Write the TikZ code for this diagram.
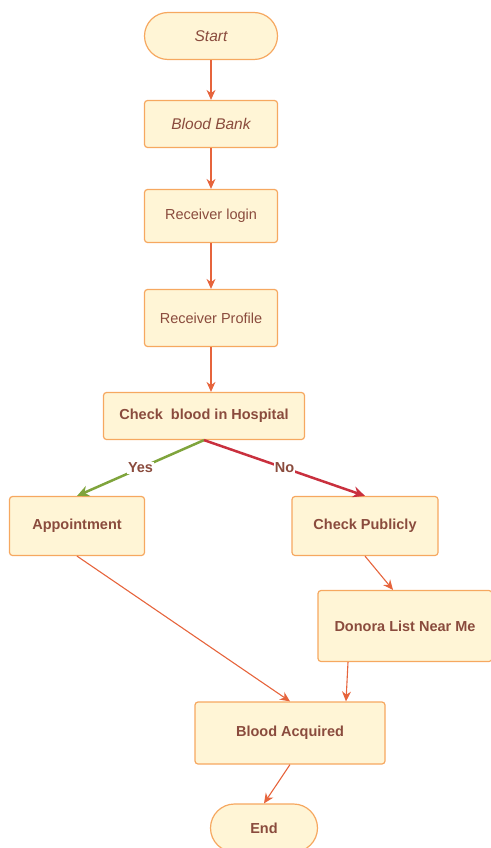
\documentclass[tikz,border=0pt]{standalone}
\usepackage{fontspec}
\setmainfont{Liberation Sans}
\usepackage{xcolor}
\usetikzlibrary{positioning}
\usetikzlibrary{arrows.meta}
\definecolor{boxfill}{HTML}{FFF5D6}
\definecolor{boxline}{HTML}{F6A860}
\definecolor{boxtext}{HTML}{8A4B3D}
\definecolor{flow}{HTML}{E6643C}
\definecolor{yesline}{HTML}{7FA43C}
\definecolor{noline}{HTML}{C9303E}
\tikzset{x=1pt, y=-1pt,
      every node/.style={font=\fontsize{14.5}{17}\selectfont, text=boxtext},
      box/.style={draw=boxline, fill=boxfill, line width=1.2pt,
      rounded corners=3pt, minimum width=133pt, minimum height=47pt, inner sep=0pt},
      term/.style={box, rounded corners=23.5pt},
      lbl/.style={fill=white, inner sep=1pt, font=\fontsize{14.5}{17}\selectfont\bfseries},
      every edge/.style={draw=flow, line width=1.1pt,
      -{Stealth[length=10pt,width=9pt]}}}

\begin{document}
\begin{tikzpicture}
          \useasboundingbox (0,0) rectangle (490,848);
          \node[term] (start) at (211,36) {\fontsize{15.5}{18}\selectfont\itshape Start};
          \node[box, below of=start, node distance=88pt] (bank) {\fontsize{15.5}{18}\selectfont\itshape Blood Bank};
          \node[box, below of=bank, node distance=92pt, minimum height=53pt] (login) {Receiver login};
          \node[box, below of=login, node distance=102pt, minimum height=57pt] (profile) {Receiver Profile};
          \node[box, below of=profile, node distance=98pt, xshift=-7pt, minimum width=201pt] (check) {\bfseries Check\ \ blood in Hospital};
          \node[box, minimum width=135pt, minimum height=59pt] (appoint) at (77,526) {\bfseries Appointment};
          \node[box, minimum width=146pt, minimum height=59pt] (public) at (365,526) {\bfseries Check Publicly};
          \node[box, minimum width=174pt, minimum height=71pt] (donora) at (405,626) {\bfseries Donora List Near Me};
          \node[box, minimum width=190pt, minimum height=62pt] (acquired) at (290,733) {\bfseries Blood Acquired};
          \node[term, minimum width=107pt, minimum height=48pt, rounded corners=24pt] (end) at (264,828) {\bfseries End};
          \draw (start.south) edge (bank.north);
          \draw (bank.south) edge (login.north);
          \draw (login.south) edge (profile.north);
          \draw (profile.south) edge ([xshift=7pt]check.north);
          \draw (check.south) edge[draw=yesline, line width=2.5pt, -{Stealth[length=12pt,width=11pt]}] node[lbl] {Yes} (appoint.north);
          \draw (check.south) edge[draw=noline, line width=2.5pt, -{Stealth[length=12pt,width=11pt]}] node[lbl] {No} (public.north);
          \draw (appoint.south) edge (acquired.north);
          \draw (public.south) edge ([xshift=-12pt]donora.north);
          \draw ([xshift=-57pt]donora.south) edge ([xshift=56pt]acquired.north);
          \draw (acquired.south) edge (end.north);
       \end{tikzpicture}
\end{document}
